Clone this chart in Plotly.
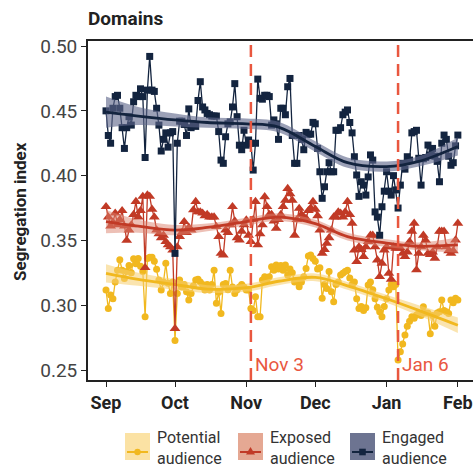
import pandas as pd
import plotly.graph_objects as go

# Daily segregation index, 1 Sep 2020 - 1 Feb 2021
dates = pd.date_range("2020-09-01", periods=154, freq="D")

potential = [
    .3117, .2975, .3078, .305, .318, .327, .335, .327, .3206, .326,
    .3307, .325, .3359, .332, .336, .330, .326, .2911, .336, .337,
    .337, .334, .3277, .3194, .3117, .318, .3323, .317, .309, .318,
    .2727, .309, .3194, .314, .316, .3104, .304, .309, .315, .3194,
    .320, .318, .316, .3117, .316, .3117, .316, .327, .3016, .310,
    .2937, .316, .3168, .312, .327, .314, .309, .312, .314, .316,
    .314, .3117, .3117, .2975, .296, .3066, .2911, .2911, .3194, .322,
    .3194, .322, .3297, .327, .331, .328, .3307, .327, .331, .3233,
    .328, .325, .318, .319, .3143, .318, .322, .3284, .338, .3387,
    .336, .334, .328, .329, .3053, .316, .313, .326, .3104, .3027,
    .316, .318, .3233, .3247, .326, .327, .321, .316, .318, .305,
    .2975, .299, .296, .298, .3156, .318, .312, .305, .2985, .295,
    .2911, .299, .305, .3117, .316, .3143, .316, .2577, .2641, .270,
    .277, .2838, .2877, .2911, .290, .2924, .294, .292, .2988, .294,
    .294, .278, .292, .2838, .294, .295, .304, .296, .295, .2937,
    .304, .302, .3053, .304,
]

exposed = [
    .376, .368, .361, .364, .371, .362, .366, .373, .361, .350,
    .358, .362, .370, .380, .368, .373, .384, .329, .385, .384,
    .374, .368, .358, .355, .352, .354, .349, .3465, .345, .3426,
    .282, .345, .353, .356, .3645, .356, .360, .358, .3735, .380,
    .372, .372, .371, .369, .370, .368, .368, .368, .3606, .353,
    .340, .3387, .358, .356, .362, .376, .365, .352, .3503, .357,
    .362, .3657, .354, .349, .366, .380, .3465, .355, .362, .3837,
    .376, .370, .370, .365, .3593, .366, .370, .376, .381, .390,
    .386, .381, .354, .366, .3747, .370, .368, .367, .373, .375,
    .380, .374, .369, .358, .340, .343, .3477, .352, .358, .368,
    .368, .372, .371, .368, .372, .380, .370, .3632, .3426, .3336,
    .345, .343, .3375, .345, .349, .354, .354, .345, .3349, .322,
    .3323, .3426, .345, .3246, .320, .345, .3439, .344, .344, .340,
    .3375, .341, .349, .357, .3632, .3272, .340, .345, .354, .350,
    .340, .339, .341, .3362, .345, .357, .357, .357, .345, .342,
    .340, .342, .3503, .3632,
]

engaged = [
    .450, .431, .425, .452, .461, .462, .452, .437, .421, .437,
    .4455, .439, .457, .462, .461, .467, .461, .414, .466, .492,
    .466, .465, .452, .439, .419, .428, .433, .422, .433, .434,
    .340, .425, .442, .442, .4395, .431, .4515, .437, .440, .438,
    .458, .4725, .453, .4507, .448, .447, .446, .446, .446, .434,
    .412, .4095, .430, .440, .4415, .453, .471, .4455, .4235, .420,
    .435, .4235, .4275, .425, .4043, .425, .4745, .4597, .459, .462,
    .462, .461, .439, .443, .440, .428, .452, .452, .447, .4686,
    .475, .431, .4095, .4095, .431, .428, .420, .4334, .432, .432,
    .4411, .440, .421, .403, .3825, .3914, .403, .410, .403, .403,
    .435, .435, .437, .447, .449, .4507, .441, .433, .4146, .4005,
    .384, .3953, .3927, .385, .399, .416, .412, .372, .368, .354,
    .376, .388, .403, .388, .385, .400, .389, .375, .3927, .4095,
    .405, .4146, .412, .433, .434, .435, .4134, .3927, .413, .414,
    .4236, .416, .421, .415, .411, .3953, .425, .4313, .428, .415,
    .408, .410, .423, .4313,
]

# Smoothed trend and confidence half-width at fixed dates
fit_dates = ["2020-09-01", "2020-09-15", "2020-10-01", "2020-10-15", "2020-11-01",
             "2020-11-15", "2020-12-01", "2020-12-15", "2021-01-01", "2021-01-15",
             "2021-02-01"]
potential_fit = [.3246, .320, .316, .3125, .3135, .3185, .3215, .315, .305, .296, .2845]
potential_hw = [.007, .005, .004, .003, .003, .003, .003, .003, .003, .004, .006]
exposed_fit = [.3645, .361, .358, .360, .3645, .368, .363, .353, .348, .3455, .3465]
exposed_hw = [.009, .005, .004, .003, .003, .003, .003, .003, .003, .003, .006]
engaged_fit = [.449, .446, .443, .441, .440, .4375, .4225, .410, .407, .411, .4225]
engaged_hw = [.012, .007, .005, .004, .004, .004, .004, .004, .004, .004, .007]

month_ticks = ["2020-09-01", "2020-10-01", "2020-11-01", "2020-12-01", "2021-01-01", "2021-02-01"]
month_labels = ["Sep", "Oct", "Nov", "Dec", "Jan", "Feb"]
y_ticks = [0.25, 0.30, 0.35, 0.40, 0.45, 0.50]

events = [("2020-11-03", "Nov 3"), ("2021-01-06", "Jan 6")]
legend_names = ["Potential<br>audience", "Exposed<br>audience", "Engaged<br>audience"]

FONT = "Roboto, Liberation Sans, Arial"
EVENT_COLOR = "#e9573f"

series = [
    (potential, potential_fit, potential_hw, "#f1b81f", "rgba(246,206,110,0.55)", "circle", 7, "#fbe2a4"),
    (exposed, exposed_fit, exposed_hw, "#c13a26", "rgba(220,130,110,0.5)", "triangle-up", 9.5, "#e5a893"),
    (engaged, engaged_fit, engaged_hw, "#13243f", "rgba(95,104,138,0.62)", "square", 7, "#6d7491"),
]

fig = go.Figure()
for vals, fit, hw, color, band, symbol, size, _ in series:
    lower = [c - h for c, h in zip(fit, hw)]
    upper = [c + h for c, h in zip(fit, hw)]
    fig.add_trace(go.Scatter(x=dates, y=vals, mode="lines+markers",
                             line=dict(color=color, width=1.3),
                             marker=dict(symbol=symbol, size=size, color=color,
                                         line=dict(width=0)),
                             showlegend=False))
    fig.add_trace(go.Scatter(x=fit_dates, y=lower, mode="lines",
                             line=dict(width=0, shape="spline"), showlegend=False,
                             hoverinfo="skip"))
    fig.add_trace(go.Scatter(x=fit_dates, y=upper, mode="lines", fill="tonexty",
                             fillcolor=band, line=dict(width=0, shape="spline"),
                             showlegend=False, hoverinfo="skip"))
    fig.add_trace(go.Scatter(x=fit_dates, y=fit, mode="lines",
                             line=dict(color=color, width=2.8, shape="spline"),
                             showlegend=False))

shapes = []
annotations = []
for day, label in events:
    shapes.append(dict(type="line", xref="x", yref="paper", x0=day, x1=day, y0=0, y1=1,
                       line=dict(color=EVENT_COLOR, width=2.5, dash="12px,7px"),
                       layer="above"))
    annotations.append(dict(x=day, y=0.2545, xref="x", yref="y", text=label,
                            showarrow=False, xanchor="left", yanchor="middle", xshift=2,
                            font=dict(family=FONT, size=19, color=EVENT_COLOR)))

# Legend drawn below the axes: swatch box, line, marker, two-line label
plot_w, plot_h, left, bottom = 385.0, 339.0, 88.0, 380.0
def px_x(p):
    return (p - left) / plot_w
def px_y(p):
    return (bottom - p) / plot_h

legend_left = [125, 238, 350]
for (vals, fit, hw, color, band, symbol, size, box), name, bx in zip(series, legend_names, legend_left):
    shapes.append(dict(type="rect", xref="paper", yref="paper",
                       x0=px_x(bx), x1=px_x(bx + 25), y0=px_y(433), y1=px_y(460),
                       fillcolor=box, line=dict(width=0)))
    shapes.append(dict(type="line", xref="paper", yref="paper",
                       x0=px_x(bx + 2), x1=px_x(bx + 23), y0=px_y(452), y1=px_y(452),
                       line=dict(color=color, width=2)))
    cx, cy = bx + 12.5, 452
    if symbol == "circle":
        shapes.append(dict(type="circle", xref="paper", yref="paper",
                           x0=px_x(cx - 3.2), x1=px_x(cx + 3.2), y0=px_y(cy - 3.2), y1=px_y(cy + 3.2),
                           fillcolor=color, line=dict(width=0)))
    elif symbol == "square":
        shapes.append(dict(type="rect", xref="paper", yref="paper",
                           x0=px_x(cx - 3.3), x1=px_x(cx + 3.3), y0=px_y(cy - 3.3), y1=px_y(cy + 3.3),
                           fillcolor=color, line=dict(width=0)))
    else:
        path = "M {} {} L {} {} L {} {} Z".format(px_x(cx - 4.5), px_y(cy + 2.5), px_x(cx + 4.5),
                                                  px_y(cy + 2.5), px_x(cx), px_y(cy - 5))
        shapes.append(dict(type="path", xref="paper", yref="paper", path=path,
                           fillcolor=color, line=dict(width=0)))
    annotations.append(dict(x=px_x(bx + 30), y=px_y(448.5), xref="paper", yref="paper",
                            text=name, showarrow=False, xanchor="left", yanchor="middle",
                            align="left",
                            font=dict(family=FONT, size=16, color="#333333")))

annotations.append(dict(x=px_x(86), y=px_y(18), xref="paper", yref="paper",
                        text="<b>Domains</b>", showarrow=False, xanchor="left",
                        yanchor="middle", font=dict(family=FONT, size=19, color="#222222")))
annotations.append(dict(x=px_x(20), y=px_y(212), xref="paper", yref="paper",
                        text="<b>Segregation index</b>", showarrow=False, textangle=-90,
                        xanchor="center", yanchor="middle",
                        font=dict(family=FONT, size=17, color="#222222")))

fig.update_layout(
    width=473, height=470,
    margin=dict(l=88, r=0, t=41, b=90),
    paper_bgcolor="white", plot_bgcolor="white",
    showlegend=False,
    shapes=shapes, annotations=annotations,
    xaxis=dict(type="date", range=["2020-08-24 04:00", "2021-02-07 14:00"],
               tickvals=month_ticks, ticktext=["<b>%s</b>" % m for m in month_labels],
               tickfont=dict(family=FONT, size=18, color="#222222"),
               showgrid=False, zeroline=False, showline=True, linecolor="#222222",
               linewidth=1.8, mirror=True, ticks="outside", ticklen=5,
               tickcolor="#222222", tickwidth=1.2),
    yaxis=dict(range=[0.2423, 0.5039], tickvals=y_ticks,
               ticktext=["%.2f" % v for v in y_ticks],
               tickfont=dict(family=FONT, size=19, color="#444444"),
               showgrid=False, zeroline=False, showline=True, linecolor="#222222",
               linewidth=1.8, ticks="outside", ticklen=5, tickcolor="#222222",
               tickwidth=1.2),
)

fig.write_html("out.html")
